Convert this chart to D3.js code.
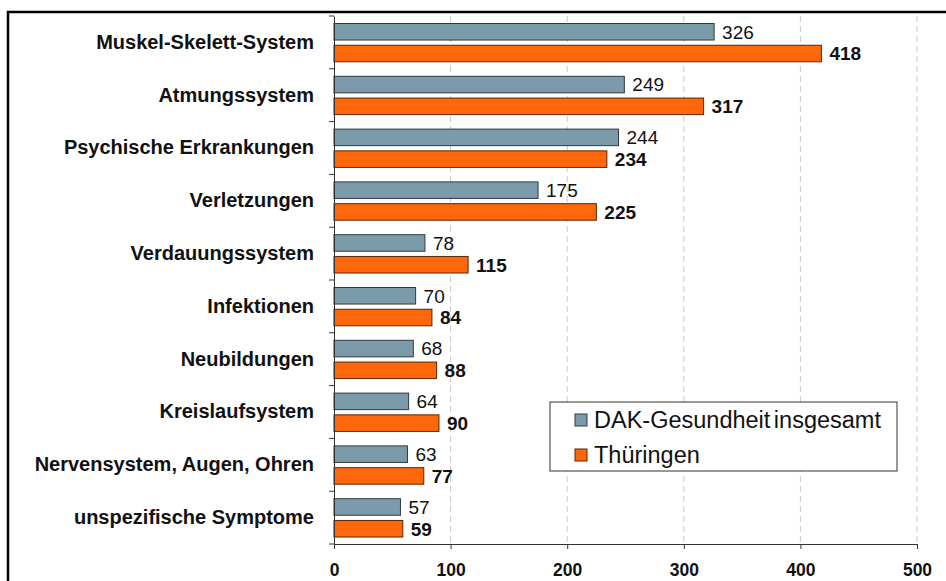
<!DOCTYPE html>
<html>
<head>
<meta charset="utf-8">
<script src="https://cdn.jsdelivr.net/npm/d3@7"></script>
<style>
  body { margin: 0; background: #fff; }
  svg text { font-family: "Liberation Sans", Arial, sans-serif; }
</style>
</head>
<body>
<div id="chart"></div>
<script>
// categories, top to bottom
var categories = ["Muskel-Skelett-System", "Atmungssystem", "Psychische Erkrankungen",
  "Verletzungen", "Verdauungssystem", "Infektionen", "Neubildungen",
  "Kreislaufsystem", "Nervensystem, Augen, Ohren", "unspezifische Symptome"];
var dakValues = [326, 249, 244, 175, 78, 70, 68, 64, 63, 57];
var thuValues = [418, 317, 234, 225, 115, 84, 88, 90, 77, 59];
var seriesNames = ["DAK-Gesundheit insgesamt", "Thüringen"];
var xTicks = [0, 100, 200, 300, 400, 500];

var W = 946, H = 581;
var plotL = 334, plotR = 917, plotT = 16, plotB = 544;

var svg = d3.select("#chart").append("svg")
  .attr("width", W).attr("height", H);

// frame
svg.append("rect")
  .attr("x", 8).attr("y", 12).attr("width", 960).attr("height", 600)
  .attr("fill", "none").attr("stroke", "#000").attr("stroke-width", 2.5);

var x = d3.scaleLinear().domain([0, 500]).range([plotL, plotR]);
var y = d3.scaleBand().domain(categories).range([plotT, plotB]);
var inner = d3.scaleBand().domain([0, 1]).range([7.5, y.bandwidth() - 7]).paddingInner(0.24);

// gridlines
svg.append("g").selectAll("line")
  .data(xTicks.slice(1))
  .enter().append("line")
  .attr("x1", function (d) { return x(d); }).attr("x2", function (d) { return x(d); })
  .attr("y1", plotT).attr("y2", plotB)
  .attr("stroke", "#c8c8c8").attr("stroke-dasharray", "6,4");

// bars
var data = [];
categories.forEach(function (c, i) {
  data.push({cat: c, s: 0, v: dakValues[i]});
  data.push({cat: c, s: 1, v: thuValues[i]});
});
var fills = ["#7b9aaa", "#ff680a"];
var strokes = ["#2f3a40", "#5a2400"];

svg.append("g").selectAll("rect")
  .data(data)
  .enter().append("rect")
  .attr("x", x(0))
  .attr("y", function (d) { return y(d.cat) + inner(d.s); })
  .attr("width", function (d) { return x(d.v) - x(0); })
  .attr("height", inner.bandwidth())
  .attr("fill", function (d) { return fills[d.s]; })
  .attr("stroke", function (d) { return strokes[d.s]; })
  .attr("stroke-width", 1);

// value labels
svg.append("g").selectAll("text")
  .data(data)
  .enter().append("text")
  .attr("x", function (d) { return x(d.v) + 8; })
  .attr("y", function (d) { return y(d.cat) + inner(d.s) + inner.bandwidth() / 2; })
  .attr("dy", "0.36em")
  .attr("font-size", "19px")
  .attr("font-weight", function (d) { return d.s == 1 ? "bold" : "normal"; })
  .attr("fill", "#111")
  .text(function (d) { return d.v; });

// y axis
var yAxis = svg.append("g")
  .attr("transform", "translate(" + plotL + ",0)")
  .call(d3.axisLeft(y).tickSize(0).tickPadding(20));
yAxis.select(".domain").attr("stroke", "#333");
yAxis.selectAll("text")
  .attr("font-size", "20px").attr("font-weight", "bold").attr("fill", "#111")
  .attr("font-family", "Liberation Sans, Arial, sans-serif");
// category separator ticks
svg.append("g").selectAll("line")
  .data(d3.range(categories.length + 1))
  .enter().append("line")
  .attr("x1", plotL - 5).attr("x2", plotL)
  .attr("y1", function (i) { return i < categories.length ? y(categories[i]) : plotB; })
  .attr("y2", function (i) { return i < categories.length ? y(categories[i]) : plotB; })
  .attr("stroke", "#333");

// x axis
var xAxis = svg.append("g")
  .attr("transform", "translate(0," + plotB + ")")
  .call(d3.axisBottom(x).tickValues(xTicks).tickSize(5).tickPadding(15).tickSizeOuter(0));
xAxis.select(".domain").attr("stroke", "#333");
xAxis.selectAll(".tick line").attr("stroke", "#333");
xAxis.selectAll("text")
  .attr("font-size", "17.5px").attr("font-weight", "bold").attr("fill", "#111")
  .attr("font-family", "Liberation Sans, Arial, sans-serif");

// legend
var lg = svg.append("g").attr("transform", "translate(550,402)");
lg.append("rect").attr("width", 347).attr("height", 69)
  .attr("fill", "#fff").attr("stroke", "#333").attr("stroke-width", 1);
seriesNames.forEach(function (name, i) {
  var row = lg.append("g").attr("transform", "translate(25," + (18 + i * 35) + ")");
  row.append("rect").attr("x", 0).attr("y", -6).attr("width", 12).attr("height", 12)
    .attr("fill", fills[i]).attr("stroke", strokes[i]);
  row.append("text").attr("x", 19).attr("dy", "0.36em")
    .attr("font-size", "23.5px").attr("word-spacing", "-3px")
    .attr("fill", "#111").text(name);
});
</script>
</body>
</html>
